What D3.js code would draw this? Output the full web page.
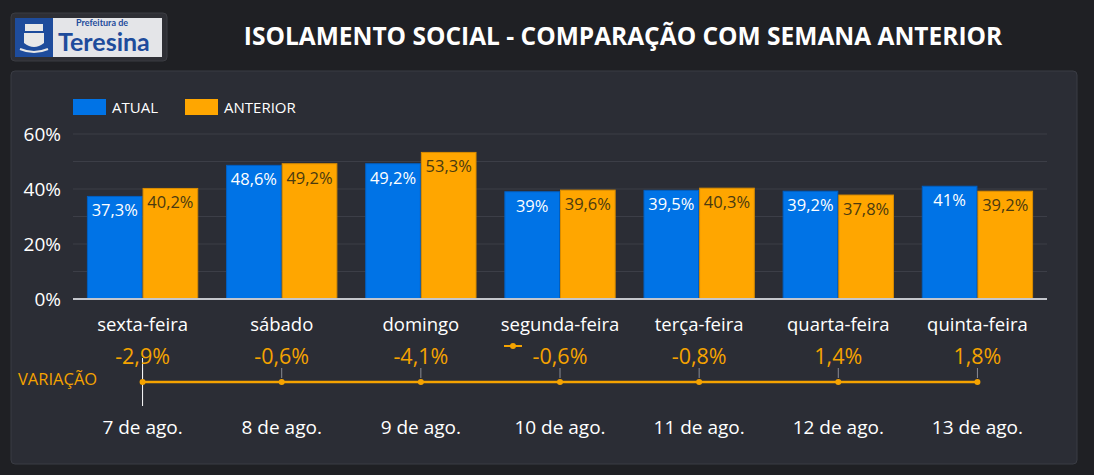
<!DOCTYPE html>
<html>
<head>
<meta charset="utf-8">
<script src="https://cdn.jsdelivr.net/npm/d3@7"></script>
<style>
  body { margin: 0; background: #1f2024; }
  svg { display: block; font-family: "Open Sans", "Noto Sans", sans-serif; }
</style>
</head>
<body>
<div id="chart"></div>
<script>
var days = ["sexta-feira", "sábado", "domingo", "segunda-feira", "terça-feira", "quarta-feira", "quinta-feira"];
var dates = ["7 de ago.", "8 de ago.", "9 de ago.", "10 de ago.", "11 de ago.", "12 de ago.", "13 de ago."];
var atual = [37.3, 48.6, 49.2, 39, 39.5, 39.2, 41];
var anterior = [40.2, 49.2, 53.3, 39.6, 40.3, 37.8, 39.2];
var variacao = [-2.9, -0.6, -4.1, -0.6, -0.8, 1.4, 1.8];
var yTicks = [0, 20, 40, 60];
var seriesNames = ["ATUAL", "ANTERIOR"];

var W = 1094, H = 475,
    blue = "#0073e6",
    orange = "#ffa600",
    varOrange = "#f5a300";

function fmt (v) { return String(v).replace(".", ",") + "%"; }

var svg = d3.select("#chart").append("svg")
    .attr("width", W)
    .attr("height", H);

svg.append("rect").attr("width", W).attr("height", H).attr("fill", "#1f2024");

// logo
var logo = svg.append("g");
logo.append("rect").attr("x", 11).attr("y", 13).attr("width", 156).attr("height", 48).attr("rx", 4)
    .attr("fill", "#2e2f35").attr("stroke", "#3b3c42");
logo.append("rect").attr("x", 15).attr("y", 18).attr("width", 147).attr("height", 39).attr("fill", "#e4e5e8");
logo.append("rect").attr("x", 15).attr("y", 18).attr("width", 38).attr("height", 39).attr("fill", "#1e4c9c");
logo.append("rect").attr("x", 25).attr("y", 24).attr("width", 18).attr("height", 7).attr("fill", "#e8e8e8");
logo.append("path").attr("d", "M24,33 h20 v10 q-10,8 -20,0 z").attr("fill", "#e8e8e8");
logo.append("path").attr("d", "M20,49 q14,6 28,0").attr("stroke", "#e8e8e8").attr("stroke-width", 2).attr("fill", "none");
logo.append("text").attr("x", 76).attr("y", 26).attr("font-size", 9).attr("font-weight", "bold")
    .attr("font-family", "Lato").attr("fill", "#1e4c9c").text("Prefeitura de");
logo.append("text").attr("x", 58).attr("y", 51).attr("font-size", 25).attr("font-weight", "bold")
    .attr("font-family", "Lato").attr("fill", "#1e4c9c").text("Teresina");

// title
svg.append("text")
    .attr("x", 623).attr("y", 45)
    .attr("text-anchor", "middle")
    .attr("font-size", 24.5).attr("font-weight", "bold")
    .attr("fill", "#ffffff")
    .text("ISOLAMENTO SOCIAL - COMPARAÇÃO COM SEMANA ANTERIOR");

// panel
svg.append("rect").attr("x", 11).attr("y", 71).attr("width", 1066).attr("height", 393).attr("rx", 4)
    .attr("fill", "#2b2d35").attr("stroke", "#3a3c44");

// legend
var legend = svg.selectAll(".legend")
    .data(seriesNames)
    .enter()
    .append("g")
    .attr("transform", function (d, i) { return "translate(" + (73 + i * 112) + ",99)"; });
legend.append("rect").attr("width", 33).attr("height", 16)
    .attr("fill", function (d, i) { return i === 0 ? blue : orange; });
legend.append("text").attr("x", 39).attr("y", 13.5).attr("font-size", 15).attr("fill", "#ffffff")
    .text(function (d) { return d; });

// scales
var x = d3.scaleBand().domain(days).range([73, 1047]).paddingInner(0.2).paddingOuter(0.1);
var xSub = d3.scaleBand().domain(seriesNames).range([0, x.bandwidth()]);
var y = d3.scaleLinear().domain([0, 60]).range([299, 134]);

// grid
svg.selectAll(".grid")
    .data(d3.range(10, 70, 10))
    .enter()
    .append("line")
    .attr("x1", 73).attr("x2", 1047)
    .attr("y1", function (d) { return y(d); })
    .attr("y2", function (d) { return y(d); })
    .attr("stroke", "#3c3e47").attr("stroke-width", 1);

// y axis labels
svg.selectAll(".yLabel")
    .data(yTicks)
    .enter()
    .append("text")
    .attr("x", 61)
    .attr("y", function (d) { return y(d) + 7; })
    .attr("text-anchor", "end")
    .attr("font-size", 19)
    .attr("fill", "#ffffff")
    .text(function (d) { return d + "%"; });

// bars
var groups = svg.selectAll(".group")
    .data(days)
    .enter()
    .append("g")
    .attr("transform", function (d) { return "translate(" + x(d) + ",0)"; });

var barData = function (d, i) {
    return [
        { s: "ATUAL", v: atual[i], color: blue, text: "#ffffff" },
        { s: "ANTERIOR", v: anterior[i], color: orange, text: "#4a3a10" }
    ];
};

groups.selectAll("rect")
    .data(barData)
    .enter()
    .append("rect")
    .attr("x", function (d) { return xSub(d.s) + 0.5; })
    .attr("y", function (d) { return y(d.v); })
    .attr("width", xSub.bandwidth() - 1)
    .attr("height", function (d) { return 299 - y(d.v); })
    .attr("fill", function (d) { return d.color; })
    .attr("stroke", function (d) { return d.s === "ANTERIOR" ? "#d98c00" : "#005fc2"; })
    .attr("stroke-width", 1);

groups.selectAll(".barLabel")
    .data(barData)
    .enter()
    .append("text")
    .attr("x", function (d) { return xSub(d.s) + xSub.bandwidth() / 2; })
    .attr("y", function (d) { return y(d.v) + 20; })
    .attr("text-anchor", "middle")
    .attr("font-size", 16.5)
    .attr("fill", function (d) { return d.text; })
    .text(function (d) { return fmt(d.v); });

// x axis line
svg.append("line")
    .attr("x1", 73).attr("x2", 1047).attr("y1", 299).attr("y2", 299)
    .attr("stroke", "#c4c6cc").attr("stroke-width", 2);

// x labels
svg.selectAll(".xLabel")
    .data(days)
    .enter()
    .append("text")
    .attr("x", function (d) { return x(d) + x.bandwidth() / 2; })
    .attr("y", 331)
    .attr("text-anchor", "middle")
    .attr("font-size", 18.5)
    .attr("fill", "#ffffff")
    .text(function (d) { return d; });

// variation line
var lineY = 382;
var px = function (d, i) { return x(days[i]) + x.bandwidth() / 2; };

svg.append("text")
    .attr("x", 18).attr("y", 385)
    .attr("font-size", 16.5)
    .attr("fill", varOrange)
    .text("VARIAÇÃO");

svg.selectAll(".varTick")
    .data(variacao)
    .enter()
    .append("line")
    .attr("x1", px).attr("x2", px)
    .attr("y1", lineY - 14).attr("y2", lineY - 4)
    .attr("stroke", "#8a8c94").attr("stroke-width", 1);

svg.append("line")
    .attr("x1", px(null, 0)).attr("x2", px(null, 0))
    .attr("y1", 358).attr("y2", 406)
    .attr("stroke", "#ffffff").attr("stroke-width", 1);

svg.append("path")
    .datum(variacao)
    .attr("d", d3.line().x(px).y(lineY))
    .attr("fill", "none")
    .attr("stroke", varOrange)
    .attr("stroke-width", 2.5);

svg.selectAll(".varDot")
    .data(variacao)
    .enter()
    .append("circle")
    .attr("cx", px).attr("cy", lineY).attr("r", 3)
    .attr("fill", varOrange);

svg.selectAll(".varLabel")
    .data(variacao)
    .enter()
    .append("text")
    .attr("x", px)
    .attr("y", 364)
    .attr("text-anchor", "middle")
    .attr("font-size", 21.5)
    .attr("fill", varOrange)
    .text(function (d) { return fmt(d); });

// tiny series marker next to the segunda-feira value
var mk = svg.append("g").attr("transform", "translate(504,346)");
mk.append("line").attr("x1", 0).attr("x2", 18).attr("y1", 0).attr("y2", 0).attr("stroke", varOrange).attr("stroke-width", 2);
mk.append("circle").attr("cx", 9).attr("cy", 0).attr("r", 3).attr("fill", varOrange);

// dates
svg.selectAll(".dateLabel")
    .data(dates)
    .enter()
    .append("text")
    .attr("x", function (d, i) { return px(d, i); })
    .attr("y", 434)
    .attr("text-anchor", "middle")
    .attr("font-size", 19)
    .attr("fill", "#ffffff")
    .text(function (d) { return d; });
</script>
</body>
</html>
